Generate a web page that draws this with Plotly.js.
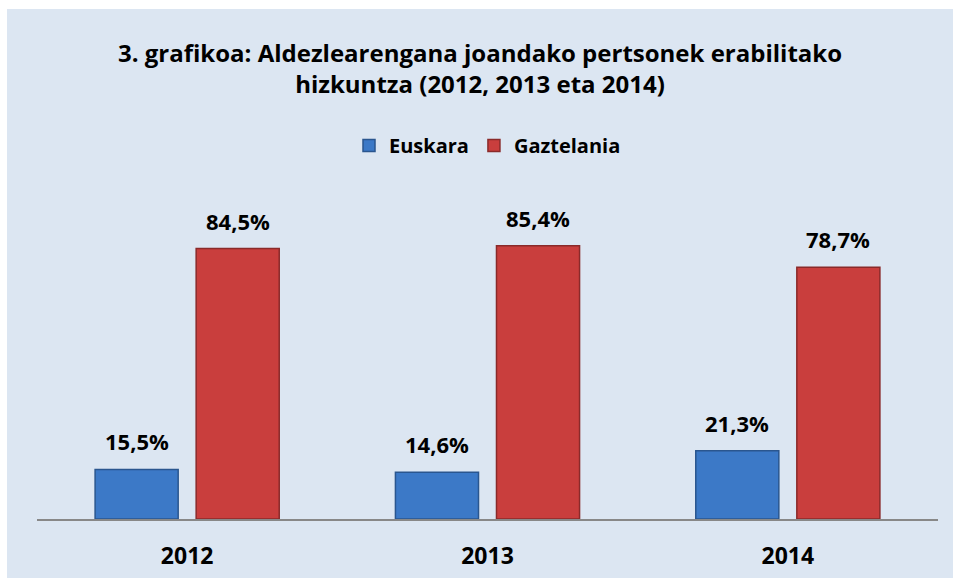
<!DOCTYPE html>
<html>
<head>
<meta charset="utf-8">
<script src="https://cdn.plot.ly/plotly-3.0.1.min.js"></script>
<style>
  html, body { margin: 0; padding: 0; background: #ffffff; }
  #chart { position: absolute; left: 7px; top: 9px; width: 946px; height: 569px; }
</style>
</head>
<body>
<div id="chart"></div>
<script>
const categories = ["2012", "2013", "2014"];
const euskara = [15.5, 14.6, 21.3];
const gaztelania = [84.5, 85.4, 78.7];
const seriesNames = ["Euskara", "Gaztelania"];
const titleText = "3. grafikoa: Aldezlearengana joandako pertsonek erabilitako<br>hizkuntza (2012, 2013 eta 2014)";

const FONT = "'Open Sans', 'Noto Sans', 'DejaVu Sans', sans-serif";

function fmt(v) { return v.toFixed(1).replace(".", ",") + "%"; }

const traces = [
  {
    type: "bar", name: seriesNames[0], x: categories, y: euskara,
    marker: { color: "#3c79c7", line: { color: "#2a568f", width: 1.5 } },
    hoverinfo: "none"
  },
  {
    type: "bar", name: seriesNames[1], x: categories, y: gaztelania,
    marker: { color: "#c93e3d", line: { color: "#8a2a2a", width: 1.5 } },
    hoverinfo: "none"
  }
];

const annotations = [];
[euskara, gaztelania].forEach((vals, i) => {
  vals.forEach((v, j) => {
    annotations.push({
      x: j, y: v, xref: "x", yref: "y",
      xshift: i === 0 ? -50.5 : 50.5, yshift: 11,
      yanchor: "bottom", showarrow: false,
      text: "<b>" + fmt(v) + "</b>",
      font: { family: FONT, size: 22, color: "#000000" }
    });
  });
});

const layout = {
  width: 946, height: 569,
  paper_bgcolor: "#dce6f2", plot_bgcolor: "#dce6f2",
  margin: { l: 30, r: 15, t: 189.5, b: 59 },
  barmode: "group", bargap: 0.327, bargroupgap: 0.178,
  title: {
    text: "<b>" + titleText + "</b>",
    x: 0.5, xanchor: "center", xref: "container",
    y: 1 - 53 / 569, yanchor: "middle", yref: "container",
    font: { family: FONT, size: 24, color: "#000000" }
  },
  showlegend: true,
  legend: {
    orientation: "h", x: 0.5, xanchor: "center", y: 1.167, yanchor: "middle",
    font: { family: FONT, size: 20, color: "#000000", weight: "bold" },
    bgcolor: "rgba(0,0,0,0)", traceorder: "normal"
  },
  xaxis: {
    type: "category", range: [-0.5, 2.5], autorange: false,
    showline: true, linecolor: "#888888", linewidth: 2,
    showgrid: false, zeroline: false, ticks: "",
    ticklabelstandoff: 15,
    tickfont: { family: FONT, size: 23, color: "#000000", weight: "bold" }
  },
  yaxis: {
    range: [0, 100], autorange: false, visible: false, showgrid: false, zeroline: false
  },
  annotations: annotations
};

Plotly.newPlot("chart", traces, layout, { displayModeBar: false, staticPlot: true });
</script>
</body>
</html>
